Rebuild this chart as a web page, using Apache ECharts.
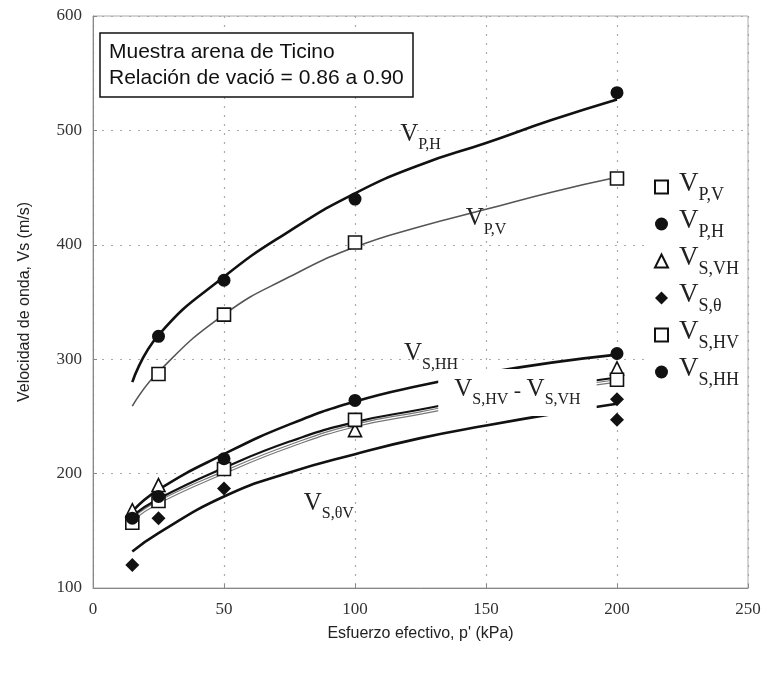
<!DOCTYPE html>
<html>
<head>
<meta charset="utf-8">
<script src="https://cdn.jsdelivr.net/npm/echarts@6/dist/echarts.min.js"></script>
<style>
  html, body { margin: 0; padding: 0; background: #fff; }
  #main { width: 767px; height: 673px; }
</style>
</head>
<body>
<div id="main"></div>
<script>
// presiones ensayadas (kPa)
var presiones = [15, 25, 50, 100, 200];
// puntos medidos (m/s)
var vpV = [287, 339, 402, 458];
var vpVx = [25, 50, 100, 200];
var vpH = [320, 369, 440, 533];
var vpHx = [25, 50, 100, 200];
var vsVH = [168, 190, 209, 238, 292];
var vsTheta = [120, 161, 187, 265, 247];
var vsThetaX = [15, 25, 50, 200, 200];
var vsHV = [157, 176, 204, 247, 282];
var vsHH = [161, 180, 213, 264, 305];

// curvas de ajuste
var curvaX = [15, 25, 50, 75, 100, 125, 150, 175, 200];
var curvaPH = [280, 321, 372, 412, 445, 470, 489, 509, 527];
var curvaPV = [259, 289, 339, 372, 398, 416, 431, 446, 459];
var curvaSHH = [167, 186, 217, 243, 263, 277, 288, 297, 304];
var curvaSHV = [163, 178, 205, 228, 245, 256, 267, 276, 284];
var curvaSVH = [160, 175, 201, 224, 242, 253, 264, 273, 281];
var curvaSTV = [132, 148, 180, 201, 217, 231, 242, 252, 261];

// etiquetas
var nombresLeyenda = ['VP,V', 'VP,H', 'VS,VH', 'VS,θ', 'VS,HV', 'VS,HH'];
var anotX = [125, 150, 129, 162, 90];
var anotY = [494, 420, 302, 271, 171];
var anotTexto = [
    '{v|V}{s|P,H}',
    '{v|V}{s|P,V}',
    '{v|V}{s|S,HH}',
    '{v|V}{s|S,HV}{m| - }{v|V}{s|S,VH}',
    '{v|V}{s|S,θV}'
];

var serif = '"Liberation Serif", "DejaVu Serif", serif';
var sans = '"Liberation Sans", Arial, sans-serif';

function pares(xs, ys) {
    return ys.map(function (y, i) { return [xs[i], y]; });
}

function curva(ys, color, width) {
    return {
        type: 'line', data: pares(curvaX, ys), smooth: true, showSymbol: false,
        lineStyle: { color: color, width: width }, z: 2, silent: true
    };
}

function puntos(name, xs, ys, symbol, abierto, size) {
    return {
        name: name, type: 'scatter', data: pares(xs, ys), symbol: symbol, symbolSize: size,
        itemStyle: abierto
            ? { color: '#fff', borderColor: '#111', borderWidth: 1.6, opacity: 1 }
            : { color: '#111', opacity: 1 },
        z: 5
    };
}

var richSub = {
    v: { fontFamily: serif, fontSize: 25, color: '#222', padding: [0, 0, 6, 0], verticalAlign: 'bottom' },
    s: { fontFamily: serif, fontSize: 16, color: '#222', verticalAlign: 'bottom' },
    m: { fontFamily: serif, fontSize: 22, color: '#222', padding: [0, 0, 6, 0], verticalAlign: 'bottom' }
};

var myChart = echarts.init(document.getElementById('main'));

var option = {
    animation: false,
    title: {
        text: 'Muestra arena de Ticino\nRelación de vació = 0.86 a 0.90',
        left: 100, top: 33,
        padding: [6, 9, 6, 9],
        borderColor: '#111', borderWidth: 1.5, backgroundColor: '#fff',
        textStyle: { fontFamily: sans, fontSize: 21, fontWeight: 'normal', color: '#111', lineHeight: 26 }
    },
    grid: { left: 93, right: 19, top: 16, bottom: 85, show: true, borderColor: '#aaa', borderWidth: 1 },
    legend: {
        orient: 'vertical', left: 646, top: 166,
        itemWidth: 13, itemHeight: 13, itemGap: 3,
        backgroundColor: '#fff', padding: [4, 6, 4, 8],
        data: nombresLeyenda,
        formatter: function (name) { return '{v|V}{s|' + name.slice(1) + '}'; },
        textStyle: { rich: {
            v: { fontFamily: serif, fontSize: 27, color: '#222', padding: [0, 0, 7, 6], verticalAlign: 'bottom' },
            s: { fontFamily: serif, fontSize: 18, color: '#222', verticalAlign: 'bottom' }
        } }
    },
    xAxis: {
        type: 'value', min: 0, max: 250, interval: 50,
        name: "Esfuerzo efectivo, p' (kPa)", nameLocation: 'middle', nameGap: 38,
        nameTextStyle: { fontFamily: sans, fontSize: 16, color: '#222' },
        axisLine: { lineStyle: { color: '#888' } },
        axisTick: { inside: true, length: 4, lineStyle: { color: '#888' } },
        axisLabel: { fontFamily: serif, fontSize: 17, color: '#333', margin: 13 },
        splitLine: { lineStyle: { color: '#aaa', type: [2, 7], width: 1.2 } }
    },
    yAxis: {
        type: 'value', min: 100, max: 600, interval: 100,
        name: 'Velocidad de onda, Vs (m/s)', nameLocation: 'middle', nameGap: 60,
        nameTextStyle: { fontFamily: sans, fontSize: 16, color: '#222' },
        axisLine: { show: true, lineStyle: { color: '#888' } },
        axisTick: { show: true, inside: true, length: 4, lineStyle: { color: '#888' } },
        axisLabel: { fontFamily: serif, fontSize: 17, color: '#333', margin: 11 },
        splitLine: { lineStyle: { color: '#aaa', type: [2, 7], width: 1.2 } }
    },
    series: [
        curva(curvaPH, '#111', 2.6),
        curva(curvaPV, '#555', 1.6),
        curva(curvaSHH, '#111', 2.6),
        curva(curvaSVH, '#777', 3.6),
        curva(curvaSVH, '#fff', 1.2),
        curva(curvaSHV, '#111', 2.2),
        curva(curvaSTV, '#111', 2.6),
        puntos('VP,V', vpVx, vpV, 'rect', true, 13),
        puntos('VP,H', vpHx, vpH, 'circle', false, 13),
        puntos('VS,VH', presiones, vsVH, 'triangle', true, 13),
        puntos('VS,θ', vsThetaX, vsTheta, 'diamond', false, 14),
        puntos('VS,HV', presiones, vsHV, 'rect', true, 13),
        puntos('VS,HH', presiones, vsHH, 'circle', false, 13),
        {
            type: 'scatter', symbolSize: 0, z: 8, zlevel: 1, silent: true,
            itemStyle: { opacity: 1 },
            data: anotX.map(function (x, i) {
                var lab = { show: true, position: 'inside', formatter: anotTexto[i], rich: richSub, opacity: 1 };
                if (i === 3) {
                    lab.backgroundColor = '#fff';
                    lab.padding = [8, 16, 8, 16];
                }
                return { value: [x, anotY[i]], label: lab };
            })
        }
    ]
};

myChart.setOption(option);
</script>
</body>
</html>
